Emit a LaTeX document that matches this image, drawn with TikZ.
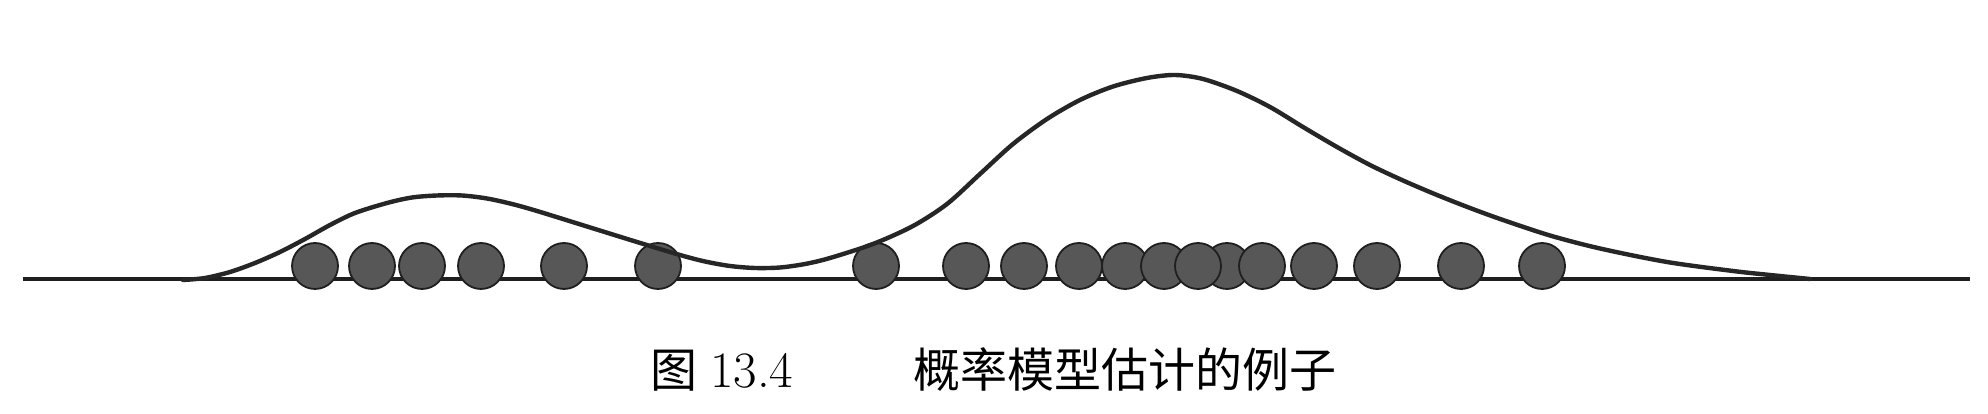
\documentclass[tikz,border=0pt]{standalone}
\usepackage{fontspec}
\newfontfamily\cjk{Noto Sans CJK SC}
\begin{document}
\begin{tikzpicture}[x=1pt,y=1pt,
  dotnode/.style={circle,minimum size=46pt,inner sep=0pt,fill=black!66,draw=black!88,line width=1.8pt},
  axisline/.style={line width=3.2pt,draw=black!88},
  density/.style={line width=4.4pt,draw=black!85,line cap=round,line join=round},
  captext/.style={anchor=base west,inner sep=0pt,font=\fontsize{47}{50}\selectfont}]
\useasboundingbox[fill=white] (0,0) rectangle (1988,414);
\coordinate (axL) at (23,135);
\coordinate (axR) at (1970,135);
\draw[axisline] (axL) -- (axR);
\foreach \i/\x in {1/315,2/372,3/422,4/481,5/564,6/658,7/876,8/966,9/1024,10/1079,11/1125,12/1164,13/1227,14/1198,15/1262,16/1314,17/1377,18/1461,19/1542}
  \node[dotnode] (d\i) at (\x,148) {};
\draw[density] plot[smooth,tension=0.5] coordinates {
 (183,134) (205,136) (230,142) (255,151) (280,162) (305,175) (330,189) (355,201)
 (387,211) (412,216.5) (437,218.5) (462,218.5) (487,215.5) (512,210) (537,203)
 (587,187.5) (637,172) (680,159) (705,152.5) (730,148) (755,146) (780,146.5)
 (805,150) (830,156) (873,170) (913,188) (947,210) (980,240) (1013,270) (1047,295)
 (1080,314) (1113,327.5) (1147,336) (1175,339) (1203,335) (1237,323) (1270,307)
 (1303,287) (1337,267) (1370,249) (1403,233.5) (1437,219) (1470,206) (1503,194)
 (1550,178.5) (1600,165.5) (1667,152) (1733,143) (1770,139) (1810,135)};
\node[captext] (caption) at (650,26) {{\cjk 图}\hspace{13pt}{\fontsize{51}{54}\selectfont 13.4}\hspace{120pt}{\cjk 概率模型估计的例子}};
\end{tikzpicture}
\end{document}
